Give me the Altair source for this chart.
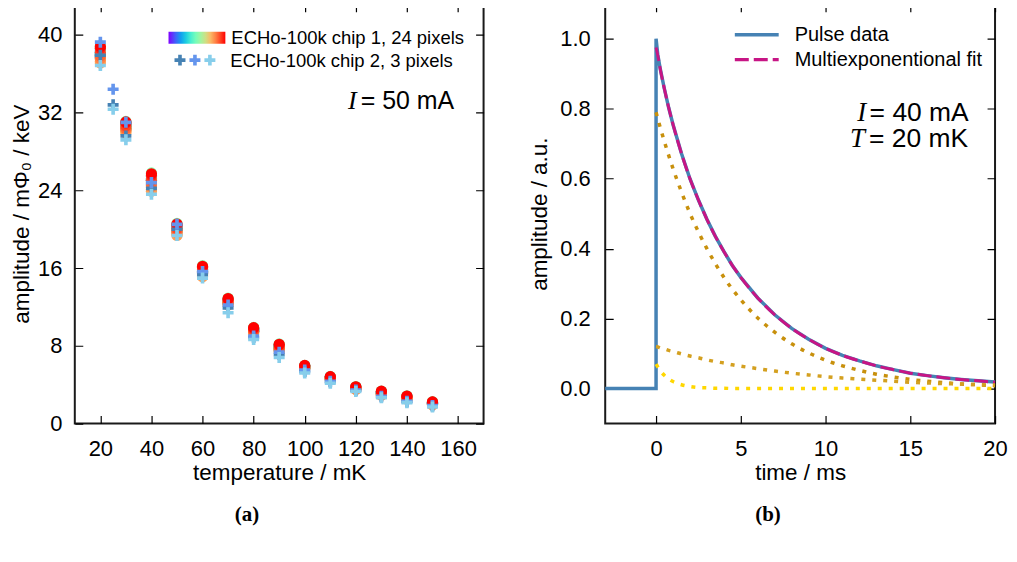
import altair as alt
import pandas as pd

# ---------------- panel (a) data ----------------
TEMPS_1 = [20, 30, 40, 50, 60, 70, 80, 90, 100, 110, 120, 130, 140, 150]
# amplitude of chip 1 per temperature, 24 pixels each (pixel 1 .. 24)
CHIP1 = [
    [37.91, 38.18, 37.64, 38.36, 38.0, 37.73, 38.54, 38.09, 37.82, 38.27, 38.72, 38.0, 38.9, 38.18, 37.91, 37.64, 37.46, 37.28, 37.1, 37.55, 37.82, 38.18, 38.63, 38.81],
    [30.44, 30.62, 30.26, 30.74, 30.5, 30.32, 30.86, 30.56, 30.38, 30.68, 30.98, 30.5, 31.1, 30.62, 30.44, 30.26, 30.14, 30.02, 29.9, 30.2, 30.38, 30.62, 30.92, 31.04],
    [24.76, 25.04, 24.47, 25.23, 24.85, 24.57, 25.42, 24.95, 24.66, 25.14, 25.61, 24.85, 25.8, 25.04, 24.76, 24.47, 24.28, 24.09, 23.9, 24.38, 24.66, 25.04, 25.52, 25.71],
    [19.91, 20.1, 19.73, 20.23, 19.98, 19.79, 20.35, 20.04, 19.85, 20.16, 20.48, 19.98, 20.6, 20.1, 19.91, 19.73, 19.6, 19.48, 19.35, 19.66, 19.85, 20.1, 20.41, 20.54],
    [15.62, 15.79, 15.45, 15.91, 15.68, 15.5, 16.02, 15.73, 15.56, 15.85, 16.14, 15.68, 16.25, 15.79, 15.62, 15.45, 15.33, 15.22, 15.1, 15.39, 15.56, 15.79, 16.08, 16.19],
    [12.52, 12.62, 12.41, 12.69, 12.55, 12.45, 12.76, 12.59, 12.48, 12.66, 12.83, 12.55, 12.9, 12.62, 12.52, 12.41, 12.34, 12.27, 12.2, 12.38, 12.48, 12.62, 12.8, 12.87],
    [9.54, 9.64, 9.45, 9.71, 9.58, 9.48, 9.77, 9.61, 9.51, 9.67, 9.84, 9.58, 9.9, 9.64, 9.54, 9.45, 9.38, 9.32, 9.25, 9.41, 9.51, 9.64, 9.8, 9.87],
    [7.76, 7.88, 7.64, 7.96, 7.8, 7.68, 8.04, 7.84, 7.72, 7.92, 8.12, 7.8, 8.2, 7.88, 7.76, 7.64, 7.56, 7.48, 7.4, 7.6, 7.72, 7.88, 8.08, 8.16],
    [5.78, 5.84, 5.72, 5.88, 5.8, 5.74, 5.92, 5.82, 5.76, 5.86, 5.96, 5.8, 6.0, 5.84, 5.78, 5.72, 5.68, 5.64, 5.6, 5.7, 5.76, 5.84, 5.94, 5.98],
    [4.66, 4.71, 4.61, 4.75, 4.68, 4.62, 4.78, 4.69, 4.64, 4.73, 4.82, 4.68, 4.85, 4.71, 4.66, 4.61, 4.57, 4.54, 4.5, 4.59, 4.64, 4.71, 4.8, 4.83],
    [3.64, 3.68, 3.59, 3.71, 3.65, 3.61, 3.74, 3.67, 3.62, 3.7, 3.77, 3.65, 3.8, 3.68, 3.64, 3.59, 3.56, 3.53, 3.5, 3.58, 3.62, 3.68, 3.76, 3.79],
    [3.1, 3.17, 3.04, 3.22, 3.13, 3.06, 3.26, 3.15, 3.08, 3.19, 3.31, 3.13, 3.35, 3.17, 3.1, 3.04, 2.99, 2.95, 2.9, 3.01, 3.08, 3.17, 3.28, 3.33],
    [2.66, 2.71, 2.61, 2.75, 2.68, 2.62, 2.78, 2.69, 2.64, 2.73, 2.82, 2.68, 2.85, 2.71, 2.66, 2.61, 2.57, 2.54, 2.5, 2.59, 2.64, 2.71, 2.8, 2.83],
    [2.06, 2.11, 2.01, 2.15, 2.08, 2.02, 2.18, 2.09, 2.04, 2.13, 2.22, 2.08, 2.25, 2.11, 2.06, 2.01, 1.97, 1.94, 1.9, 1.99, 2.04, 2.11, 2.2, 2.23],
]
PIXELS_1 = list(range(1, 25))

TEMPS_2 = [20, 25, 30, 40, 50, 60, 70, 80, 90, 100, 110, 120, 130, 140, 150]
PIXELS_2 = ["pixel A", "pixel B", "pixel C"]
CHIP2_A = [37.9, 32.8, 29.6, 24.2, 20.0, 15.3, 11.9, 8.85, 7.1, 5.35, 4.3, 3.4, 2.75, 2.25, 1.8]
CHIP2_B = [39.25, 34.4, 31.0, 24.8, 20.5, 15.65, 12.2, 9.0, 7.35, 5.5, 4.35, 3.45, 2.8, 2.3, 1.85]
CHIP2_C = [36.85, 32.35, 29.2, 23.6, 19.35, 14.97, 11.4, 8.65, 6.8, 5.2, 4.15, 3.3, 2.65, 2.15, 1.7]

XL_TICKS = [20, 40, 60, 80, 100, 120, 140, 160]
YL_TICKS = [0, 8, 16, 24, 32, 40]

# ---------------- panel (b) data ----------------
T_PULSE = [-3, 0, 0, 0.1, 0.25, 0.5, 0.75, 1, 1.5, 2, 2.5, 3, 3.5, 4, 4.5, 5, 6, 7, 8, 9, 10,
           11, 12, 13, 14, 15, 16, 17, 18, 19, 20]
PULSE = [0.0, 0.0, 1.0, 0.955, 0.913, 0.855, 0.802, 0.755, 0.672, 0.600, 0.539, 0.484, 0.435,
         0.392, 0.352, 0.318, 0.259, 0.211, 0.172, 0.141, 0.115, 0.095, 0.079, 0.065, 0.054,
         0.044, 0.037, 0.031, 0.026, 0.022, 0.019]
T_FIT = [0, 0.1, 0.25, 0.5, 0.75, 1, 1.5, 2, 2.5, 3, 3.5, 4, 4.5, 5, 6, 7, 8, 9, 10,
         11, 12, 13, 14, 15, 16, 17, 18, 19, 20]
FIT = [0.975, 0.953, 0.913, 0.855, 0.802, 0.755, 0.672, 0.600, 0.539, 0.484, 0.435, 0.392,
       0.352, 0.318, 0.259, 0.211, 0.172, 0.141, 0.115, 0.095, 0.079, 0.065, 0.054, 0.044,
       0.037, 0.031, 0.026, 0.022, 0.018]
COMP_1 = [0.790, 0.772, 0.746, 0.705, 0.666, 0.629, 0.562, 0.501, 0.448, 0.400, 0.357, 0.318,
          0.284, 0.254, 0.202, 0.161, 0.128, 0.102, 0.081, 0.065, 0.052, 0.041, 0.033, 0.026,
          0.021, 0.017, 0.013, 0.011, 0.008]
COMP_2 = [0.120, 0.119, 0.116, 0.113, 0.109, 0.106, 0.099, 0.093, 0.088, 0.082, 0.077, 0.073,
          0.068, 0.064, 0.057, 0.050, 0.044, 0.039, 0.034, 0.030, 0.027, 0.024, 0.021, 0.018,
          0.016, 0.014, 0.013, 0.011, 0.010]
COMP_3 = [0.070, 0.062, 0.051, 0.037, 0.027, 0.020, 0.011, 0.006, 0.003, 0.002, 0.001, 0.001,
          0.000, 0.000, 0.000, 0.000, 0.000, 0.000, 0.000, 0.000, 0.000, 0.000, 0.000, 0.000,
          0.000, 0.000, 0.000, 0.000, 0.000]
SERIES_PULSE = ["Pulse data"]
SERIES_FIT = ["Multiexponentional fit"]
XR_TICKS = [0, 5, 10, 15, 20]
YR_TICKS = [0.0, 0.2, 0.4, 0.6, 0.8, 1.0]

# ---------------- styling ----------------
FONT = "Liberation Sans"
H = 421
WL = 410
WR = 391
RB_DOMAIN = [1, 3.875, 6.75, 9.625, 12.5, 15.375, 18.25, 21.125, 24]
RB_COLORS = ["#8000ff", "#4062fa", "#00b4eb", "#40ebd4", "#80ffb4", "#c0eb8e", "#ffb462", "#ff6232", "#ff0000"]
CHIP2_COLORS = ["#4682b4", "#6495ed", "#87ceeb"]
PULSE_COLOR = "#4682b4"
FIT_COLOR = "#c71585"
PLUS = "M-1,-0.33H-0.33V-1H0.33V-0.33H1V0.33H0.33V1H-0.33V0.33H-1Z"

# ---------------- tables ----------------
rows1 = []
for i, pix in enumerate(PIXELS_1):
    for t, vals in zip(TEMPS_1, CHIP1):
        rows1.append({"T": t, "amp": vals[i], "pixel": pix})
df1 = pd.DataFrame(rows1)

rows2 = []
for pix, vals in zip(PIXELS_2, [CHIP2_A, CHIP2_B, CHIP2_C]):
    for t, v in zip(TEMPS_2, vals):
        rows2.append({"T": t, "amp": v, "pixel": pix})
df2 = pd.DataFrame(rows2)

ann_l_sym = pd.DataFrame({"T": [120.3], "amp": [33.15], "txt": ["I"]})
ann_l_txt = pd.DataFrame({"T": [121.9], "amp": [33.15], "txt": ["= 50 mA"]})

df_pulse = pd.DataFrame({"t": T_PULSE, "v": PULSE, "idx": list(range(len(T_PULSE))),
                         "series": SERIES_PULSE * len(T_PULSE)})
df_fit = pd.DataFrame({"t": T_FIT, "v": FIT, "idx": list(range(len(T_FIT))),
                       "series": SERIES_FIT * len(T_FIT)})
df_c1 = pd.DataFrame({"t": T_FIT, "v": COMP_1})
df_c2 = pd.DataFrame({"t": T_FIT, "v": COMP_2})
df_c3 = pd.DataFrame({"t": T_FIT, "v": COMP_3})
ann_r_sym = pd.DataFrame({"t": [12.4, 12.32], "v": [0.788, 0.714], "txt": ["I", "T"]})
ann_r_txt = pd.DataFrame({"t": [12.6, 12.56], "v": [0.788, 0.714], "txt": ["= 40 mA", "= 20 mK"]})

# ---------------- panel (a) ----------------
xl = alt.X("T:Q", scale=alt.Scale(domain=[10, 170], nice=False, zero=False),
           axis=alt.Axis(values=XL_TICKS, title="temperature / mK", gridDash=[8, H - 16, 8],
                         labelPadding=15, titlePadding=2))
yl = alt.Y("amp:Q", scale=alt.Scale(domain=[0, 43.2], nice=False),
           axis=alt.Axis(values=YL_TICKS, title="amplitude  / mΦ₀ / keV", gridDash=[8, WL - 16, 8],
                         labelPadding=13, titlePadding=4))

chip1 = alt.Chart(df1).mark_circle(size=125, opacity=1).encode(
    x=xl, y=yl,
    color=alt.Color("pixel:Q",
                    scale=alt.Scale(domain=RB_DOMAIN, range=RB_COLORS, interpolate="rgb"),
                    legend=alt.Legend(type="gradient", direction="horizontal", orient="none",
                                      legendX=94, legendY=28, gradientLength=57,
                                      gradientThickness=12, gradientStrokeWidth=0,
                                      labelExpr="''", labelOpacity=0, labelFontSize=1,
                                      title="ECHo-100k chip 1, 24 pixels",
                                      titleOrient="right", titleFontSize=18.5,
                                      titleFontWeight="normal", titleFont=FONT,
                                      titleColor="black", titlePadding=6, titleLimit=400)),
)

chip2 = alt.Chart(df2).mark_point(shape=PLUS, filled=True, size=121, opacity=1, strokeWidth=0).encode(
    x=xl, y=yl,
    color=alt.Color("pixel:N", scale=alt.Scale(domain=PIXELS_2, range=CHIP2_COLORS),
                    legend=alt.Legend(direction="horizontal", columns=3, orient="none",
                                      legendX=100, legendY=51, symbolType=PLUS, symbolSize=121,
                                      symbolStrokeWidth=0, symbolOpacity=1, labelExpr="''",
                                      labelOffset=0, columnPadding=4,
                                      title="ECHo-100k chip 2, 3 pixels", titleOrient="right",
                                      titleFontSize=18.5, titleFontWeight="normal",
                                      titleFont=FONT, titleColor="black", titlePadding=15,
                                      titleLimit=400)),
)

a_sym = alt.Chart(ann_l_sym).mark_text(font="Liberation Serif", fontStyle="italic", fontSize=26,
                                        align="right", baseline="middle", color="black").encode(
    x=xl, y=yl, text="txt:N")
a_txt = alt.Chart(ann_l_txt).mark_text(font=FONT, fontSize=25, align="left",
                                        baseline="middle", color="black").encode(
    x=xl, y=yl, text="txt:N")

left = alt.layer(chip1, chip2, a_sym, a_txt).resolve_scale(color="independent").properties(
    width=WL, height=H,
    title=alt.TitleParams("(a)", orient="bottom", font="Liberation Serif", fontWeight="bold",
                          fontSize=21, offset=20, color="black", frame="bounds", anchor="middle"))

# ---------------- panel (b) ----------------
xr = alt.X("t:Q", scale=alt.Scale(domain=[-3, 20], nice=False, zero=False),
           axis=alt.Axis(values=XR_TICKS, title="time / ms", gridDash=[8, H - 16, 8],
                         labelPadding=15, titlePadding=2))
yr = alt.Y("v:Q", scale=alt.Scale(domain=[-0.1, 1.1], nice=False, zero=False),
           axis=alt.Axis(values=YR_TICKS, format=".1f", title="amplitude / a.u.",
                         gridDash=[8, WR - 16, 8], labelPadding=15, titlePadding=8))

LEG_COMMON = dict(orient="none", legendX=128, title=None, symbolType="stroke",
                  symbolSize=1936, symbolStrokeWidth=3.5, labelFontSize=20, labelFont=FONT,
                  labelColor="black", labelOffset=14, labelLimit=400)
col_r = alt.Color("series:N", scale=alt.Scale(domain=SERIES_PULSE, range=[PULSE_COLOR]),
                  legend=alt.Legend(legendY=7, **LEG_COMMON))
dash_r = alt.StrokeDash("series:N", scale=alt.Scale(domain=SERIES_FIT, range=[[14, 5]]),
                        legend=alt.Legend(legendY=32, symbolStrokeColor=FIT_COLOR, **LEG_COMMON))

pulse = alt.Chart(df_pulse).mark_line(strokeWidth=3.5).encode(
    x=xr, y=yr, color=col_r, order="idx:Q")
fit = alt.Chart(df_fit).mark_line(strokeWidth=3, color=FIT_COLOR, interpolate="monotone").encode(
    x=xr, y=yr, strokeDash=dash_r, order="idx:Q")
c1 = alt.Chart(df_c1).mark_line(strokeWidth=3.5, strokeDash=[4, 7], color="#c8900c",
                                 interpolate="monotone").encode(x=xr, y=yr)
c2 = alt.Chart(df_c2).mark_line(strokeWidth=3.5, strokeDash=[4, 7], color="#d4a020",
                                 interpolate="monotone").encode(x=xr, y=yr)
c3 = alt.Chart(df_c3).mark_line(strokeWidth=3.5, strokeDash=[4, 7], color="#ffd700",
                                 interpolate="monotone").encode(x=xr, y=yr)
b_sym = alt.Chart(ann_r_sym).mark_text(font="Liberation Serif", fontStyle="italic", fontSize=27,
                                        align="right", baseline="middle", color="black").encode(
    x=xr, y=yr, text="txt:N")
b_txt = alt.Chart(ann_r_txt).mark_text(font=FONT, fontSize=26.5, align="left",
                                        baseline="middle", color="black").encode(
    x=xr, y=yr, text="txt:N")

right = alt.layer(pulse, fit, c1, c2, c3, b_sym, b_txt).properties(
    width=WR, height=H,
    title=alt.TitleParams("(b)", orient="bottom", font="Liberation Serif", fontWeight="bold",
                          fontSize=21, offset=20, color="black", frame="bounds", anchor="middle"))

chart = alt.hconcat(left, right, spacing=43).resolve_legend(
    color="independent", strokeDash="independent"
).properties(
    padding={"left": 1, "top": -6, "right": 0, "bottom": 0}
).configure_view(stroke="#1a1a1a", strokeWidth=2).configure_axis(
    labelFont=FONT, labelFontSize=22, labelColor="black", labelFlush=False,
    titleFont=FONT, titleFontSize=22.5, titleFontWeight="normal", titleColor="black",
    domain=False, ticks=False, grid=True, gridColor="black", gridWidth=1.2, gridOpacity=1,
)

chart.save("out.html", embed_options={"renderer": "svg", "actions": False})
